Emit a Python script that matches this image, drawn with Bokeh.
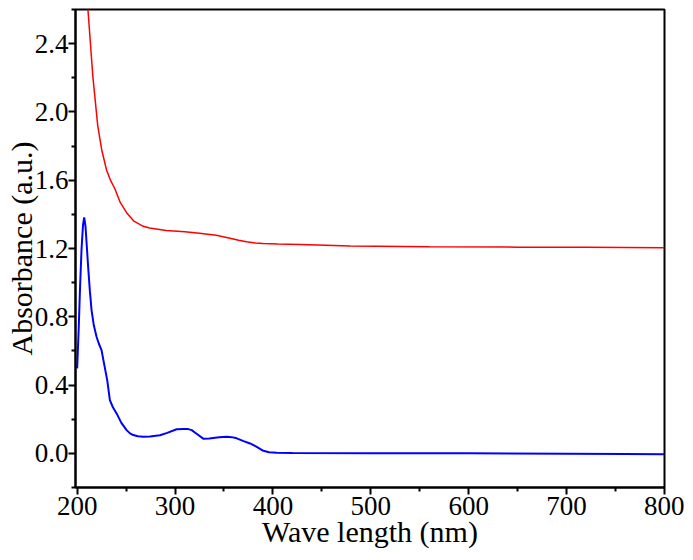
from bokeh.embed import file_html
from bokeh.models import Range1d, FixedTicker
from bokeh.plotting import figure
from bokeh.resources import INLINE

# red curve (upper)
red_nm = [204, 208, 211, 216, 221, 225, 230, 234, 238.5, 244, 250.5, 258, 267.5,
          274, 291, 310, 325, 342, 355, 365, 373, 382, 390, 405, 428, 479, 560,
          650, 720, 800]
red_abs = [3.4, 2.9, 2.6, 2.21, 1.92, 1.78, 1.66, 1.6, 1.55, 1.47, 1.41, 1.36, 1.33,
           1.32, 1.305, 1.298, 1.29, 1.278, 1.262, 1.248, 1.239, 1.232, 1.229, 1.226,
           1.224, 1.214, 1.21, 1.208, 1.207, 1.205]

# blue curve (lower)
blue_nm = [200, 201.5, 203, 204.5, 206, 207.2, 208.5, 210, 211.2, 213, 214.7, 217,
           219.8, 222, 224.9, 227, 230.7, 233.4, 236.5, 240.3, 245, 250.5, 254,
           257.3, 262, 267.5, 274.3, 284.6, 292, 301.6, 308.4, 313.5, 317, 322,
           328.8, 335, 345, 352.8, 358, 363, 370, 376.6, 383, 390.2, 396, 403.9,
           420, 500, 600, 700, 760, 800]
blue_abs = [0.498, 0.72, 0.98, 1.2, 1.34, 1.382, 1.33, 1.2, 1.093, 0.95, 0.839, 0.75,
            0.683, 0.645, 0.605, 0.54, 0.429, 0.312, 0.27, 0.234, 0.18, 0.136, 0.117,
            0.107, 0.1, 0.097, 0.099, 0.106, 0.12, 0.141, 0.142, 0.142, 0.136, 0.115,
            0.086, 0.087, 0.094, 0.097, 0.095, 0.088, 0.072, 0.058, 0.04, 0.015,
            0.007, 0.004, 0.002, 0.001, 0.0, -0.002, -0.004, -0.005]

x_ticks = [200, 300, 400, 500, 600, 700, 800]
x_minor = [250, 350, 450, 550, 650, 750]
y_ticks = [0.0, 0.4, 0.8, 1.2, 1.6, 2.0, 2.4]
y_minor = [-0.2, 0.2, 0.6, 1.0, 1.4, 1.8, 2.2, 2.6]

FONT = "'Liberation Serif', 'Times New Roman', serif"

p = figure(width=684, height=551, output_backend="svg", toolbar_location=None,
           x_range=Range1d(198.3, 800), y_range=Range1d(-0.2, 2.6),
           min_border_left=75, min_border_right=20, min_border_top=9,
           min_border_bottom=64)

p.line(red_nm, red_abs, line_color="#ff0000", line_width=1.5)
p.line(blue_nm, blue_abs, line_color="#0000ff", line_width=2)

p.grid.visible = False
p.outline_line_color = "black"
p.outline_line_width = 2
p.background_fill_color = "white"

p.xaxis.ticker = FixedTicker(ticks=x_ticks, minor_ticks=x_minor)
p.yaxis.ticker = FixedTicker(ticks=y_ticks, minor_ticks=y_minor)
p.yaxis.major_label_overrides = {v: f"{v:.1f}" for v in y_ticks}

for ax in (p.xaxis, p.yaxis):
    ax.axis_line_color = "black"
    ax.axis_line_width = 2
    ax.major_tick_line_color = "black"
    ax.major_tick_line_width = 2
    ax.minor_tick_line_color = "black"
    ax.minor_tick_line_width = 2
    ax.major_tick_in = 0
    ax.major_tick_out = 7
    ax.minor_tick_in = 0
    ax.minor_tick_out = 4
    ax.major_label_text_font = FONT
    ax.major_label_text_font_size = "27px"
    ax.major_label_text_color = "black"
    ax.axis_label_text_font = FONT
    ax.axis_label_text_font_size = "30px"
    ax.axis_label_text_font_style = "normal"
    ax.axis_label_text_color = "black"

p.xaxis.axis_label = "Wave length (nm)"
p.yaxis.axis_label = "Absorbance (a.u.)"
p.xaxis.major_label_standoff = 2
p.xaxis.axis_label_standoff = -3
p.yaxis.major_label_standoff = 0
p.yaxis.axis_label_standoff = -6

open("out.html", "w").write(file_html(p, INLINE))
